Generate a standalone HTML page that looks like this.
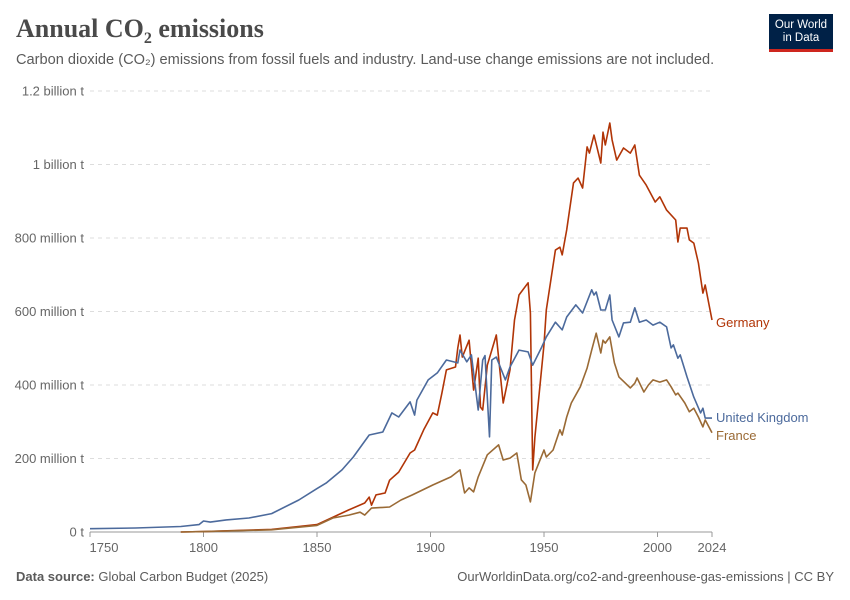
<!DOCTYPE html>
<html><head><meta charset="utf-8"><style>
body{margin:0;background:#fff;font-family:"Liberation Sans",sans-serif}
#wrap{position:relative;width:850px;height:600px;overflow:hidden}
</style></head><body><div id="wrap">
<div style="position:absolute;left:16px;top:14px;font-family:'Liberation Serif',serif;font-size:26px;font-weight:bold;color:#4a4a4a">Annual CO<sub style="font-size:16px">2</sub> emissions</div>
<div style="position:absolute;left:16px;top:52px;font-size:14.6px;color:#5b5b5b">Carbon dioxide (CO₂) emissions from fossil fuels and industry. Land-use change emissions are not included.</div>
<div style="position:absolute;left:769px;top:14px;width:64px;height:38px;background:#002147;border-bottom:3px solid #ce261e;color:#fff;font-size:11.5px;line-height:13px;text-align:center;padding-top:5px;box-sizing:border-box">Our World<br>in Data</div>
<svg id="chart" width="850" height="600" style="position:absolute;left:0;top:0"></svg>
<div style="position:absolute;left:16px;top:569px;font-size:13px;color:#5b5b5b"><b>Data source:</b> Global Carbon Budget (2025)</div>
<div style="position:absolute;right:16px;top:569px;font-size:13px;color:#5b5b5b">OurWorldinData.org/co2-and-greenhouse-gas-emissions | CC BY</div>
</div>
<script>
const yTicks=[0,200,400,600,800,1000,1200];
const yTickLabels=["0 t","200 million t","400 million t","600 million t","800 million t","1 billion t","1.2 billion t"];
const xTicks=[1750,1800,1850,1900,1950,2000,2024];
const seriesNames=["Germany","United Kingdom","France"];
const deYears=[1790,1800,1830,1850,1864,1871,1873,1874,1876,1880,1882,1886,1891,1893,1897,1901,1903,1905,1907,1911,1912,1913,1914,1917,1919,1921,1922,1923,1925,1927,1929,1932,1935,1937,1939,1943,1944,1945,1946,1950,1951,1955,1957,1958,1960,1963,1965,1967,1969,1970,1972,1975,1976,1977,1979,1980,1982,1985,1988,1990,1992,1995,1999,2001,2004,2008,2009,2010,2013,2014,2016,2018,2020,2021,2024];
const deValues=[0,1,7,20,60,79,95,73,101,106,141,163,215,223,278,324,318,378,441,449,501,536,476,522,386,473,340,332,454,495,536,351,441,577,645,678,596,169,258,510,604,767,775,754,822,950,963,936,1048,1031,1080,1004,1088,1053,1113,1067,1012,1045,1031,1053,971,944,898,912,876,849,789,827,827,795,786,732,650,672,577];
const ukYears=[1750,1770,1790,1798,1800,1803,1810,1820,1830,1842,1850,1854,1861,1866,1873,1879,1883,1886,1891,1893,1894,1899,1903,1907,1912,1913,1916,1918,1921,1923,1924,1926,1927,1929,1933,1935,1939,1943,1945,1949,1951,1955,1958,1960,1964,1967,1971,1972,1973,1975,1977,1979,1980,1983,1985,1988,1990,1992,1995,1998,2001,2004,2006,2007,2009,2010,2013,2016,2019,2020,2021,2024];
const ukValues=[9,11,15,20,30,27,33,38,50,87,118,133,169,204,264,272,324,313,354,318,359,414,433,468,460,495,463,482,332,468,480,259,468,476,414,449,495,490,454,503,531,571,550,585,618,596,659,645,653,604,604,645,577,531,569,571,610,571,577,563,571,558,501,509,473,482,422,367,324,337,310,310];
const frYears=[1790,1800,1830,1850,1857,1864,1869,1871,1874,1882,1887,1892,1901,1909,1913,1915,1917,1919,1921,1925,1930,1932,1935,1938,1940,1942,1944,1946,1950,1951,1954,1957,1958,1960,1962,1966,1969,1971,1973,1975,1976,1977,1979,1981,1983,1988,1990,1991,1994,1996,1998,2001,2004,2006,2008,2009,2012,2014,2016,2018,2020,2021,2024];
const frValues=[0,1,6,18,38,46,54,46,65,68,87,101,128,150,169,106,120,109,150,210,237,196,201,215,142,128,82,161,223,204,223,278,264,313,351,395,446,495,541,487,522,514,531,460,422,392,405,419,381,400,414,408,414,395,373,378,351,327,337,313,286,305,270];
const X0=90,X1=712,Y0=532,Y1=91;
const xs=y=>X0+(y-1750)/(2024-1750)*(X1-X0);
const ys=v=>Y0-v/1200*(Y0-Y1);
const svg=document.getElementById('chart');
const NS='http://www.w3.org/2000/svg';
function mk(t,a){const e=document.createElementNS(NS,t);for(const k in a)e.setAttribute(k,a[k]);svg.appendChild(e);return e;}
yTicks.forEach((v,i)=>{
  if(v>0){const g=mk('line',{x1:X0,x2:X1,y1:ys(v),y2:ys(v),stroke:'#ddd','stroke-dasharray':'4,4'});
  
  }
  const t=mk('text',{x:84,y:ys(v)+4.5,'text-anchor':'end','font-size':13,fill:'#666','font-family':'Liberation Sans'});
  t.textContent=yTickLabels[i];
  
  
});
const ax=mk('line',{x1:X0,x2:X1,y1:Y0,y2:Y0,stroke:'#999'});


xTicks.forEach(y=>{
  const tk=mk('line',{x1:xs(y),x2:xs(y),y1:Y0,y2:Y0+5,stroke:'#999'});
  
  
  const t=mk('text',{x:y===1750?X0+14:xs(y),y:Y0+20,'text-anchor':'middle','font-size':13,fill:'#666','font-family':'Liberation Sans'});
  t.textContent=y;
  
  
});
const series=[[deYears,deValues,'#b13507',seriesNames[0]],[ukYears,ukValues,'#4c6a9c',seriesNames[1]],[frYears,frValues,'#9a6a35',seriesNames[2]]];
const labelY=[323,418,436];
series.forEach((s,i)=>{
  const d=s[0].map((y,j)=>(j?'L':'M')+xs(y).toFixed(1)+','+ys(s[1][j]).toFixed(1)).join('');
  const p=mk('path',{d:d,fill:'none',stroke:s[2],'stroke-width':1.6,'stroke-linejoin':'round'});
  
  
  const t=mk('text',{x:716,y:labelY[i]+4,'font-size':13,fill:s[2],'font-family':'Liberation Sans'});
  t.textContent=s[3];
  
  
});
</script></body></html>
